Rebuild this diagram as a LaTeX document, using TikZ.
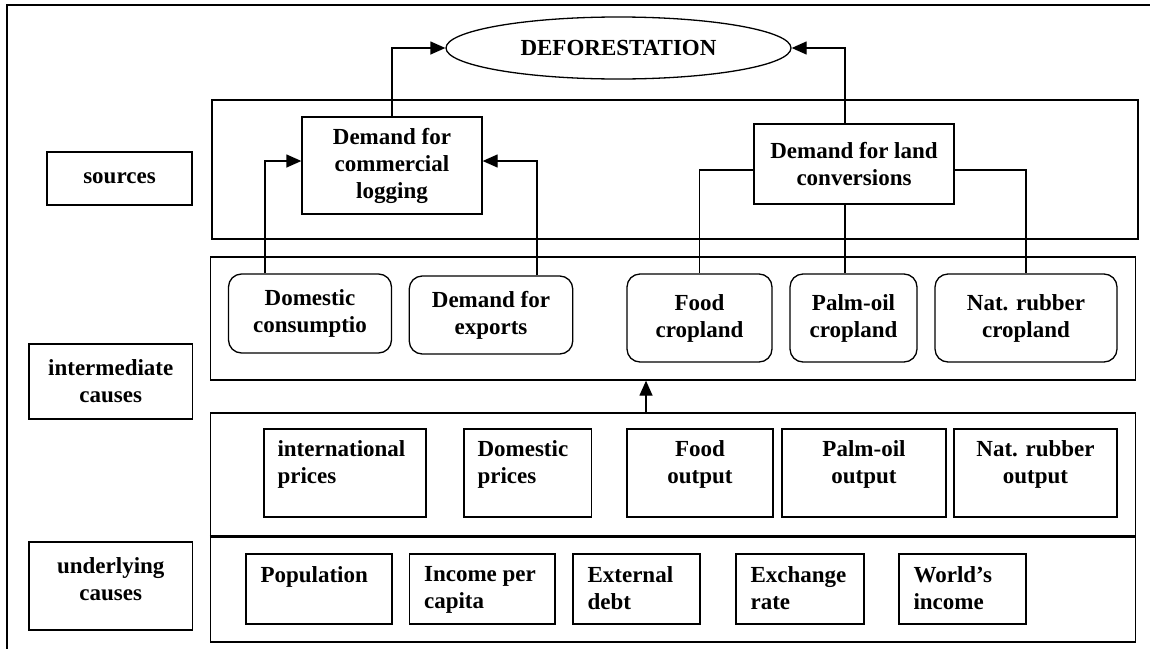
\documentclass[tikz,border=0pt]{standalone}
\usepackage{fontspec}
\setmainfont{Liberation Serif}
\usetikzlibrary{shapes.geometric,arrows.meta}

\begin{document}
\begin{tikzpicture}[x=1pt,y=-1pt,
		>={Triangle[length=15pt,width=13pt]},
		every node/.style={font=\bfseries\fontsize{23}{27}\selectfont},
		box/.style={draw,line width=1.3pt,inner sep=0pt,align=center},
		roundbox/.style={box,rounded corners=13pt},
		panel/.style={draw,line width=1.3pt,inner sep=0pt},
		txt/.style={inner sep=0pt},
		link/.style={line width=1.3pt}]
			\useasboundingbox (0,0) rectangle (1150,648);
			% outer frame
			\draw[line width=2pt] (7,650) -- (7,5) -- (1150,5);
			% panels
			\node[panel,minimum width=926pt,minimum height=139pt] (srcpanel) at (675,169.5) {};
			\node[panel,minimum width=925pt,minimum height=123pt] (midpanel) at (673,318.5) {};
			\node[panel,minimum width=925pt,minimum height=123pt] (pricepanel) at (673,474.5) {};
			\node[panel,minimum width=925pt,minimum height=106pt] (basepanel) at (673,589) {};
			\draw[line width=2.4pt] (pricepanel.south west) -- (pricepanel.south east);
			% row labels
			\node[box,minimum width=145pt,minimum height=53pt] (sources) at (119.5,178.5) {sources};
			\node[box,minimum width=163.5pt,minimum height=75pt] (interm) at (110.75,381.5) {intermediate\\causes};
			\node[box,minimum width=163.5pt,minimum height=88pt,text depth=14pt] (underl) at (110.75,586) {underlying\\causes};
			% top
			\node[draw,ellipse,line width=1.3pt,inner sep=0pt,minimum width=345pt,minimum height=62pt] (defo) at (618.5,48) {DEFORESTATION};
			\node[box,minimum width=180pt,minimum height=97pt] (logging) at (392,165.5) {Demand for\\commercial\\logging};
			\node[box,minimum width=200pt,minimum height=80pt] (land) at (854,164) {Demand for land\\conversions};
			% intermediate causes
			\node[roundbox,minimum width=163pt,minimum height=79pt] (domcons) at (310,313.5) {Domestic\\consumptio};
			\node[roundbox,minimum width=163.5pt,minimum height=78pt] (exports) at (491,315) {Demand for\\exports};
			\node[roundbox,minimum width=145pt,minimum height=88pt] (foodcrop) at (699.5,318) {Food\\cropland};
			\node[roundbox,minimum width=127pt,minimum height=88pt] (palmcrop) at (853.5,318) {Palm-oil\\cropland};
			\node[roundbox,minimum width=182pt,minimum height=88pt] (rubbercrop) at (1026,318) {Nat. rubber\\cropland};
			% prices and outputs
			\node[box,minimum width=162pt,minimum height=88pt] (intprice) at (345,473) {};
			\node[box,minimum width=127.5pt,minimum height=88pt] (domprice) at (527.75,473) {};
			\node[box,minimum width=146pt,minimum height=88pt] (foodout) at (700,473) {};
			\node[box,minimum width=164pt,minimum height=88pt] (palmout) at (864,473) {};
			\node[box,minimum width=163pt,minimum height=88pt] (rubberout) at (1035.5,473) {};
			\node[txt,anchor=north west,align=left] (intpricetxt) at ([shift={(14,12)}]intprice.north west) {international\\prices};
			\node[txt,anchor=north west,align=left] (dompricetxt) at ([shift={(14,12)}]domprice.north west) {Domestic\\prices};
			\node[txt,anchor=north,align=center] (foodouttxt) at ([shift={(0,12)}]foodout.north) {Food\\output};
			\node[txt,anchor=north,align=center] (palmouttxt) at ([shift={(0,12)}]palmout.north) {Palm-oil\\output};
			\node[txt,anchor=north,align=center] (rubberouttxt) at ([shift={(0,12)}]rubberout.north) {Nat. rubber\\output};
			% underlying causes
			\node[box,minimum width=146pt,minimum height=70pt] (pop) at (319,589) {};
			\node[box,minimum width=145.5pt,minimum height=70pt] (income) at (482.25,589) {};
			\node[box,minimum width=127pt,minimum height=70pt] (debt) at (636.5,589) {};
			\node[box,minimum width=128pt,minimum height=70pt] (exch) at (800,589) {};
			\node[box,minimum width=127pt,minimum height=70pt] (world) at (962.5,589) {};
			\node[txt,anchor=north west,align=left] (poptxt) at ([shift={(15,13)}]pop.north west) {Population};
			\node[txt,anchor=north west,align=left] (incometxt) at ([shift={(15,13)}]income.north west) {Income per\\capita};
			\node[txt,anchor=north west,align=left] (debttxt) at ([shift={(15,13)}]debt.north west) {External\\debt};
			\node[txt,anchor=north west,align=left] (exchtxt) at ([shift={(15,13)}]exch.north west) {Exchange\\rate};
			\node[txt,anchor=north west,align=left] (worldtxt) at ([shift={(15,13)}]world.north west) {World’s\\income};
			% connectors
			\draw[link,->] (logging.north) |- (defo.west);
			\draw[link,->] (land.north -| 845,0) |- (defo.east);
			\draw[link,->] (domcons.north -| 265,0) |- (logging.west |- 0,161);
			\draw[link,->] (exports.north -| 537,0) |- (logging.east |- 0,161);
			\draw[link] (land.west |- 0,170) -| (foodcrop.north);
			\draw[link] (land.south -| 845,0) -- (palmcrop.north -| 845,0);
			\draw[link] (land.east |- 0,170) -| (rubbercrop.north);
			\draw[link,->] (pricepanel.north -| 646,0) -- (midpanel.south -| 646,0);
		\end{tikzpicture}
\end{document}
